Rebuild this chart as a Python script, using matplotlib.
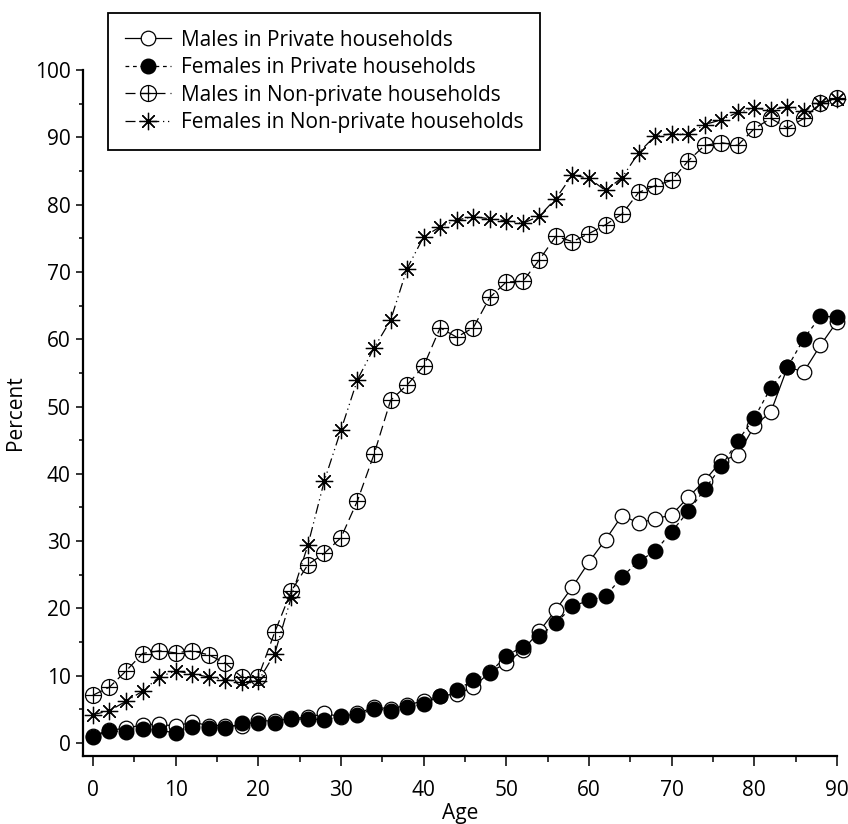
import matplotlib
matplotlib.use('Agg')
import matplotlib.pyplot as plt
from matplotlib.legend_handler import HandlerTuple
from matplotlib.ticker import MultipleLocator

plt.rcParams['font.family'] = 'Open Sans'

# Ages (x axis), every second year
ages = [0, 2, 4, 6, 8, 10, 12, 14, 16, 18, 20, 22, 24, 26, 28, 30, 32, 34, 36, 38,
        40, 42, 44, 46, 48, 50, 52, 54, 56, 58, 60, 62, 64, 66, 68, 70, 72, 74, 76, 78,
        80, 82, 84, 86, 88, 90]

males_private = [1.1, 1.9, 2.2, 2.7, 2.8, 2.5, 3.1, 2.6, 2.6, 2.5, 3.4, 3.2, 3.7, 3.8, 4.4,
                 3.9, 4.4, 5.3, 5.1, 5.6, 6.3, 7.0, 7.3, 8.3, 10.5, 11.9, 13.8, 16.6, 19.8,
                 23.2, 26.9, 30.2, 33.8, 32.7, 33.3, 33.9, 36.5, 39.0, 41.9, 42.8, 47.1,
                 49.2, 55.8, 55.2, 59.1, 62.6]
females_private = [0.9, 1.8, 1.7, 2.1, 1.9, 1.5, 2.4, 2.2, 2.2, 2.9, 3.0, 2.9, 3.5, 3.6, 3.4,
                   4.0, 4.1, 5.1, 4.8, 5.3, 5.8, 7.0, 7.9, 9.3, 10.4, 13.0, 14.3, 15.9, 17.8,
                   20.3, 21.2, 21.8, 24.7, 27.0, 28.5, 31.4, 34.4, 37.7, 41.1, 44.9, 48.3,
                   52.8, 55.8, 60.1, 63.4, 63.3]
males_nonprivate = [7.1, 8.3, 10.7, 13.3, 13.7, 13.4, 13.7, 13.1, 11.9, 9.8, 9.8, 16.5,
                    22.6, 26.5, 28.2, 30.5, 36.0, 42.9, 50.9, 53.2, 56.0, 61.7, 60.3, 61.7,
                    66.2, 68.5, 68.6, 71.8, 75.3, 74.5, 75.7, 77.0, 78.6, 81.8, 82.8, 83.6,
                    86.5, 88.8, 89.2, 88.8, 91.3, 92.8, 91.4, 92.8, 95.1, 95.8]
females_nonprivate = [4.2, 4.8, 6.2, 7.7, 9.8, 10.7, 10.3, 9.8, 9.4, 9.1, 9.2, 13.3, 21.7,
                      29.4, 39.0, 46.5, 54.0, 58.7, 62.8, 70.5, 75.2, 76.7, 77.7, 78.2, 77.9,
                      77.6, 77.2, 78.3, 80.9, 84.4, 83.9, 82.1, 84.0, 87.7, 90.2, 90.5, 90.5,
                      91.9, 92.6, 93.7, 94.3, 94.1, 94.5, 93.9, 95.1, 95.7]

labels = ['Males in Private households', 'Females in Private households',
          'Males in Non-private households', 'Females in Non-private households']

W, H = 848, 824
fig = plt.figure(figsize=(W / 100, H / 100), dpi=100)
ax = fig.add_axes([83 / W, 68 / H, (837 - 83) / W, (756 - 70) / H])

lw = 0.9
ms = 10.5
l1, = ax.plot(ages, males_private, color='black', lw=lw, ls='-', marker='o',
              ms=ms, mfc='white', mec='black', mew=0.9, clip_on=False)
l2, = ax.plot(ages, females_private, color='black', lw=lw, ls=(0, (3, 3)), marker='o',
              ms=ms, mfc='black', mec='black', clip_on=False)
l3, = ax.plot(ages, males_nonprivate, color='black', lw=lw, ls=(0, (8, 4)), marker='o',
              ms=ms + 1, mfc='none', mec='black', mew=0.9, clip_on=False)
l3p, = ax.plot(ages, males_nonprivate, ls='none', marker='+', ms=ms + 1,
               mec='black', mew=0.9, clip_on=False)
l4, = ax.plot(ages, females_nonprivate, color='black', lw=lw, ls=(0, (8, 3, 1, 3, 1, 3)),
              marker=(8, 2, 0), ms=ms + 2, mec='black', mew=0.9, clip_on=False)

ax.set_xlim(-1.2, 90)
ax.set_ylim(-1.93, 100)
ax.xaxis.set_major_locator(MultipleLocator(10))
ax.xaxis.set_minor_locator(MultipleLocator(5))
ax.yaxis.set_major_locator(MultipleLocator(10))
ax.yaxis.set_minor_locator(MultipleLocator(5))
for s in ['top', 'right']:
    ax.spines[s].set_visible(False)
for s in ['left', 'bottom']:
    ax.spines[s].set_linewidth(1.6)
ax.tick_params(axis='x', which='major', direction='out', length=7, width=1.1,
               labelsize=15, pad=10)
ax.tick_params(axis='x', which='minor', direction='out', length=4, width=1.1)
ax.tick_params(axis='y', which='major', direction='out', length=5, width=1.1,
               labelsize=15, pad=4)
ax.tick_params(axis='y', which='minor', direction='out', length=3, width=1.1)
ax.set_xlabel('Age', fontsize=15, labelpad=2)
ax.set_ylabel('Percent', fontsize=15, labelpad=6)

leg = fig.legend([l1, l2, (l3, l3p), l4], labels, loc='upper left',
                 bbox_to_anchor=(108 / W, 1 - 13 / H), borderaxespad=0,
                 fontsize=15, frameon=True, fancybox=False, edgecolor='black',
                 framealpha=1, handlelength=2.2, handletextpad=0.5,
                 labelspacing=0.31, borderpad=0.8,
                 handler_map={tuple: HandlerTuple(ndivide=1, pad=0)})
leg.get_frame().set_linewidth(1.3)

fig.savefig('out.png', dpi=100)
